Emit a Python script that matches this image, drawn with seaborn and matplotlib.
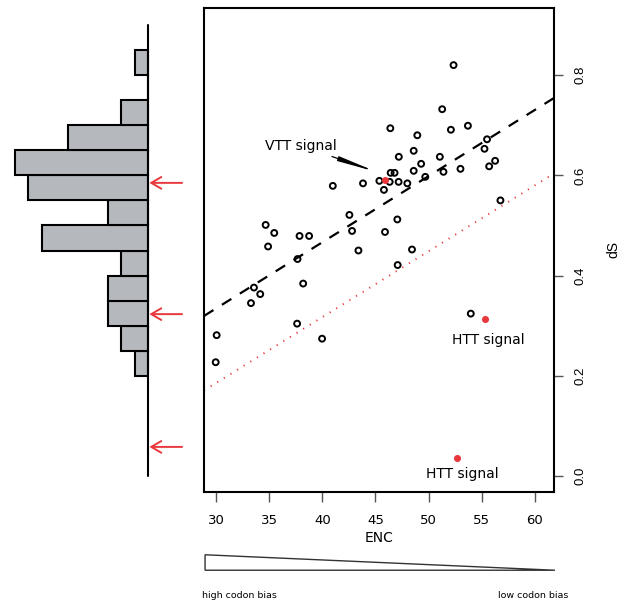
import matplotlib
matplotlib.use("Agg")
import matplotlib.pyplot as plt
import seaborn as sns
import numpy as np
import pandas as pd

# ---------------- data ----------------
enc = [52.35, 51.28, 46.4, 52.1, 53.7, 48.94, 48.6, 47.2, 51.06, 55.5,
       55.26, 49.3, 48.6, 51.4, 53.0, 55.7, 56.26, 49.69, 46.43, 46.8,
       45.37, 46.34, 47.18, 48.0, 45.8, 43.83, 40.99, 56.76, 42.55, 47.06,
       42.8, 45.9, 34.67, 35.48, 37.86, 38.76, 34.9, 43.4, 48.44, 37.67,
       47.09, 33.57, 34.16, 33.29, 38.2, 37.63, 39.98, 30.06, 29.97, 53.97]
ds = [0.820, 0.732, 0.694, 0.691, 0.699, 0.680, 0.649, 0.637, 0.637, 0.672,
      0.653, 0.623, 0.609, 0.607, 0.613, 0.618, 0.629, 0.597, 0.605, 0.605,
      0.589, 0.587, 0.587, 0.584, 0.571, 0.584, 0.579, 0.550, 0.521, 0.512,
      0.489, 0.487, 0.501, 0.485, 0.479, 0.479, 0.458, 0.450, 0.452, 0.433,
      0.421, 0.376, 0.363, 0.345, 0.384, 0.304, 0.274, 0.281, 0.227, 0.324]

signal_enc = [45.9, 55.29, 52.69]
signal_ds = [0.590, 0.313, 0.035]
signal_labels = ["VTT signal", "HTT signal", "HTT signal"]

hist_edges = [0.20, 0.25, 0.30, 0.35, 0.40, 0.45, 0.50, 0.55, 0.60, 0.65,
              0.70, 0.75, 0.80, 0.85]
hist_counts = [1, 2, 3, 3, 2, 8, 3, 9, 10, 6, 2, 0, 1]
arrow_ds = [0.585, 0.323, 0.058]

fit_intercept = -0.062
fit_slope = 0.01321
ref_intercept = -0.209
ref_slope = 0.01315

x_ticks = [30, 35, 40, 45, 50, 55, 60]
y_ticks = [0.0, 0.2, 0.4, 0.6, 0.8]
y_ticklabels = ["0.0", "0.2", "0.4", "0.6", "0.8"]

RED = "#e8383d"
GREY = "#b5b8bd"

sns.set_theme(style="white")
plt.rcParams["font.family"] = ["DejaVu Sans"]
plt.rcParams["text.color"] = "black"
plt.rcParams["axes.labelcolor"] = "black"
plt.rcParams["xtick.color"] = "black"
plt.rcParams["ytick.color"] = "black"

W, H = 634, 602
fig = plt.figure(figsize=(W / 100, H / 100), dpi=100)

# ---------------- scatter ----------------
ax = fig.add_axes([204 / W, 1 - 492 / H, 350 / W, 484 / H])
df = pd.DataFrame({"ENC": enc, "dS": ds})
sns.scatterplot(data=df, x="ENC", y="dS", ax=ax, marker="o",
                facecolor="none", edgecolor="black", s=18, linewidth=1.4)
sig = pd.DataFrame({"ENC": signal_enc, "dS": signal_ds})
sns.scatterplot(data=sig, x="ENC", y="dS", ax=ax, color=RED, s=26,
                linewidth=0, zorder=5)

ax.axline((0, fit_intercept), slope=fit_slope, color="black", lw=1.6,
          dashes=(5, 4.5))
ax.axline((0, ref_intercept), slope=ref_slope, color=RED, lw=1.4,
          dashes=(0.6, 3.4))

ax.set_xlim(28.87, 61.8)
ax.set_ylim(-0.032, 0.934)
ax.set_xticks(x_ticks)
ax.set_yticks(y_ticks)
ax.set_yticklabels(y_ticklabels)
ax.yaxis.tick_right()
ax.yaxis.set_label_position("right")
ax.tick_params(axis="x", direction="out", length=7.5, width=1, color="#555555",
               pad=8, labelsize=9.5, bottom=True, labelcolor="black")
ax.tick_params(axis="y", direction="out", length=6.5, width=1, color="#555555",
               pad=8.5, labelsize=9.5, right=True, left=False, labelcolor="black")
for lbl in ax.get_yticklabels():
    lbl.set_rotation(90)
    lbl.set_va("center")
    lbl.set_ha("left")
    lbl.set_family("Liberation Sans")
ax.set_xlabel("ENC", fontsize=10, labelpad=3.5, color="black")
ax.set_ylabel("dS", fontsize=10, labelpad=14, family="Liberation Sans",
              color="black")
for s in ax.spines.values():
    s.set_color("black")
    s.set_linewidth(1.5)

# annotations
ax.annotate(signal_labels[0], xy=(45.09, 0.607), xytext=(41.36, 0.659),
            ha="right", va="center", fontsize=10, color="black",
            arrowprops=dict(arrowstyle="-|>,head_length=2.2,head_width=0.14",
                            color="black", lw=0.9, shrinkA=1, shrinkB=0))
ax.text(55.63, 0.271, signal_labels[1], ha="center", va="center", fontsize=10,
        color="black")
ax.text(53.18, 0.004, signal_labels[2], ha="center", va="center", fontsize=10,
        color="black")

# ---------------- histogram ----------------
hax = fig.add_axes([0, 1 - 492 / H, 204 / W, 484 / H])
centers = [(hist_edges[i] + hist_edges[i + 1]) / 2 for i in range(len(hist_counts))]
sns.histplot(y=centers, weights=hist_counts, bins=hist_edges, ax=hax,
             color=GREY, edgecolor="black", linewidth=1.5, alpha=1)
hax.plot([0, 0], [0.0, 0.9], color="black", lw=1.5)
for yv in arrow_ds:
    hax.annotate("", xy=(-0.1, yv), xytext=(-2.56, yv),
                 arrowprops=dict(arrowstyle="->,head_length=0.6,head_width=0.35",
                                 color=RED, lw=1.4, shrinkA=0, shrinkB=0))
hax.set_xlim(11.13, -4.21)
hax.set_ylim(-0.032, 0.934)
hax.axis("off")

# ---------------- codon-bias wedge ----------------
wax = fig.add_axes([204 / W, 1 - 571 / H, 352 / W, 17 / H])
wax.fill([0, 0, 1], [0, 1, 0], facecolor="white", edgecolor="#333333", lw=1)
wax.set_xlim(-0.003, 1.003)
wax.set_ylim(-0.05, 1.05)
wax.axis("off")
fig.text(202 / W, 1 - 595 / H, "high codon bias", ha="left", va="center",
         fontsize=6.8, color="black")
fig.text(568 / W, 1 - 595 / H, "low codon bias", ha="right", va="center",
         fontsize=6.8, color="black")

fig.savefig("out.png", dpi=100)
